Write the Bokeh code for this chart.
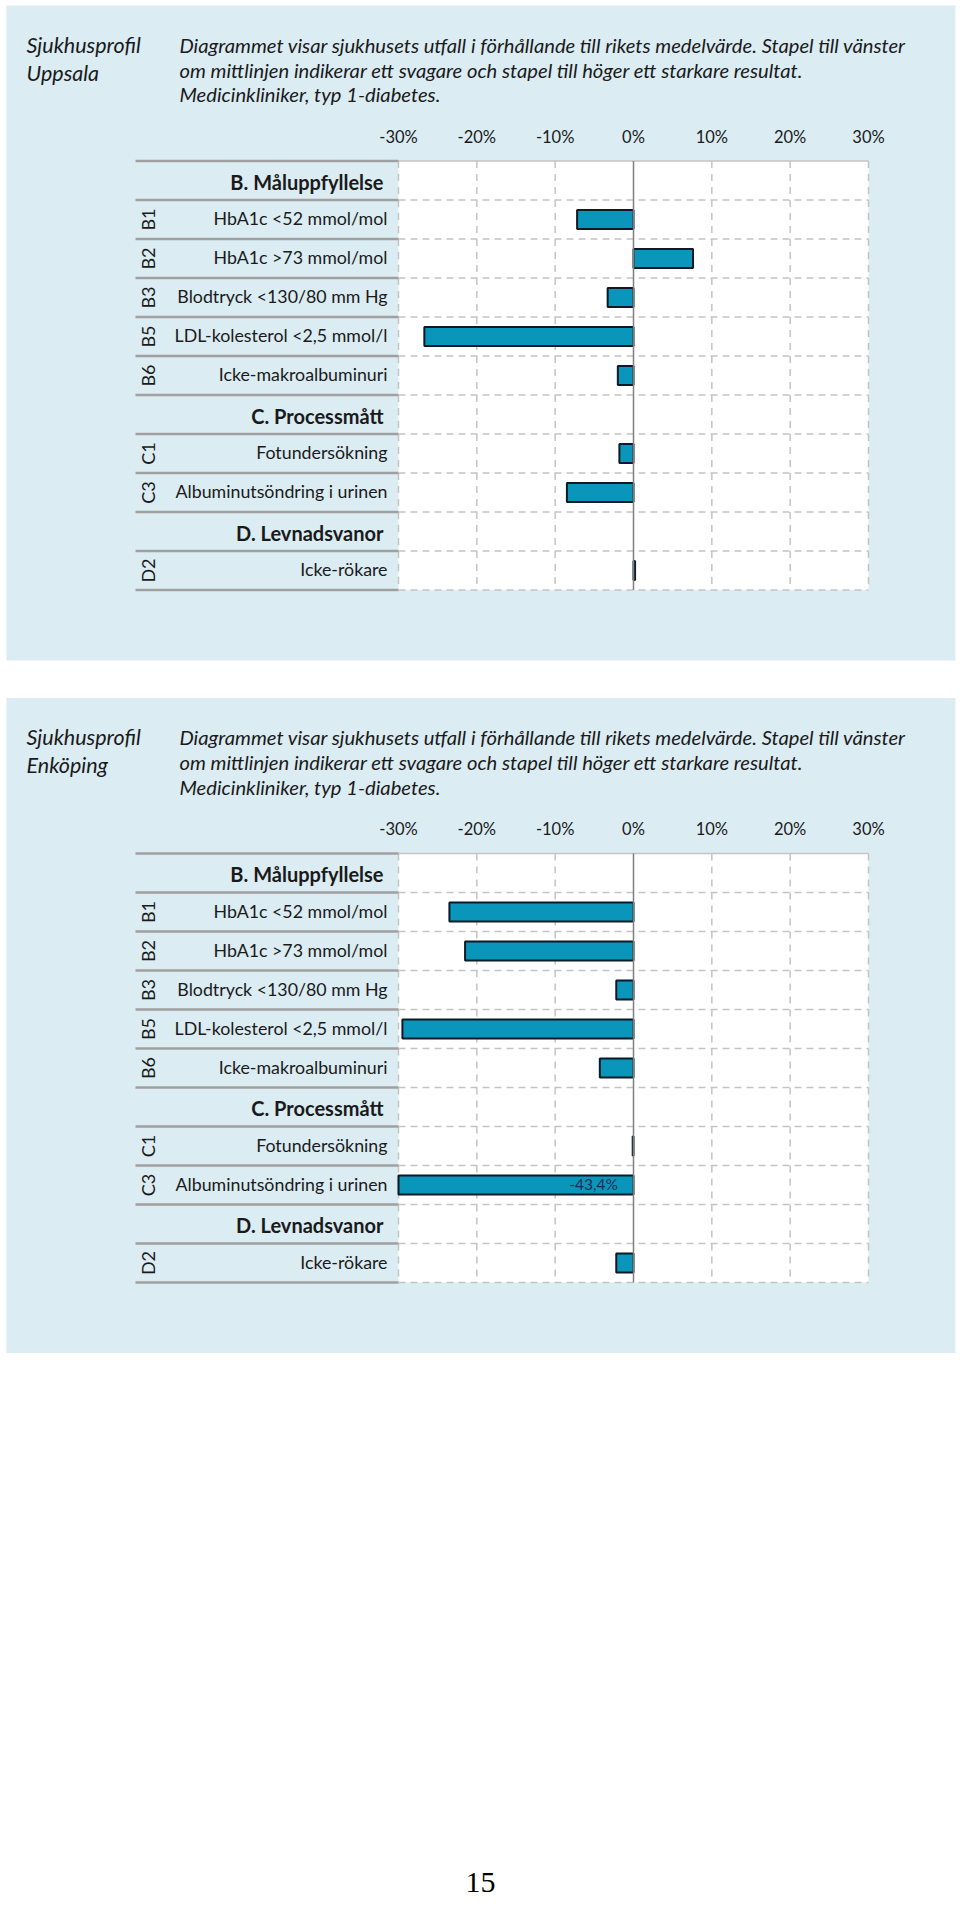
from bokeh.plotting import figure
from bokeh.models import Range1d
from bokeh.core.properties import value
from bokeh.embed import file_html
from bokeh.resources import INLINE

# ---------------- data ----------------
hospitals = ["Uppsala", "Enköping"]
sections = ["B. Måluppfyllelse", "C. Processmått", "D. Levnadsvanor"]
codes = ["B1", "B2", "B3", "B5", "B6", "C1", "C3", "D2"]
code_section = [0, 0, 0, 0, 0, 1, 1, 2]
indicators = ["HbA1c <52 mmol/mol", "HbA1c >73 mmol/mol", "Blodtryck <130/80 mm Hg",
              "LDL-kolesterol <2,5 mmol/l", "Icke-makroalbuminuri", "Fotundersökning",
              "Albuminutsöndring i urinen", "Icke-rökare"]
uppsala_values = [-7.2, 7.6, -3.3, -26.7, -2.0, -1.8, -8.5, 0.2]
enkoping_values = [-23.5, -21.5, -2.2, -29.5, -4.3, -0.1, -43.4, -2.2]
tick_values = [-30, -20, -10, 0, 10, 20, 30]
tick_labels = ["-30%", "-20%", "-10%", "0%", "10%", "20%", "30%"]
title_word = "Sjukhusprofil"
description = ["Diagrammet visar sjukhusets utfall i förhållande till rikets medelvärde. Stapel till vänster",
               "om mittlinjen indikerar  ett svagare och stapel till höger ett starkare resultat.",
               "Medicinkliniker, typ 1-diabetes."]
page_number = "15"

# ---------------- layout ----------------
W, H = 958, 1904
X_MIN, X_MAX = -30, 30
PX_L, PX_R = 398, 868
K = (PX_R - PX_L) / (X_MAX - X_MIN)
XS = X_MIN - PX_L / K
XE = XS + W / K


def X(px):
    return XS + px / K


ROW_H = 39
BG = "#DBECF3"
BAR = "#0A96BA"
TXT = "#1A1A1A"
FONT = value("Lato")

p = figure(width=W, height=H, x_range=Range1d(XS, XE), y_range=Range1d(H, 0),
           output_backend="svg", toolbar_location=None, min_border=0,
           x_axis_location=None, y_axis_location=None)
p.grid.visible = False
p.outline_line_color = None
p.background_fill_color = "white"
p.border_fill_color = "white"

# row order
rows = []
for s in range(len(sections)):
    rows.append(("sec", s))
    for i, cs in enumerate(code_section):
        if cs == s:
            rows.append(("ind", i))
NROWS = len(rows)

for base, name, vals in [(0, hospitals[0], uppsala_values), (692.5, hospitals[1], enkoping_values)]:
    top = 160.5 + base
    bottom = top + NROWS * ROW_H
    # background panel
    p.quad(left=[X(6)], right=[X(955)], top=[5 + base], bottom=[660 + base], fill_color=BG, line_color=None)
    # white plot area
    p.quad(left=[X_MIN], right=[X_MAX], top=[top], bottom=[bottom], fill_color="white", line_color=None)

    # titles
    p.text(x=[X(26)], y=[44 + base], text=[title_word], text_font=FONT, text_font_style="italic",
           text_font_size="21.5px", text_color=TXT, text_baseline="middle", text_align="left")
    p.text(x=[X(26)], y=[72 + base], text=[name], text_font=FONT, text_font_style="italic",
           text_font_size="21.5px", text_color=TXT, text_baseline="middle", text_align="left")
    p.text(x=[X(179)] * 3, y=[44 + base, 69 + base, 93.5 + base], text=description, text_font=FONT,
           text_font_style="italic", text_font_size="20.2px", text_color=TXT,
           text_baseline="middle", text_align="left")

    # tick labels
    p.text(x=tick_values, y=[136 + base] * len(tick_values), text=tick_labels, text_font=FONT,
           text_font_size="16.5px", text_color=TXT, text_baseline="middle", text_align="center")

    # grid: vertical dashed lines
    vt = [t for t in tick_values if t != 0]
    p.segment(x0=vt, x1=vt, y0=[top] * len(vt), y1=[bottom] * len(vt),
              line_color="#C4C4C4", line_width=1.5, line_dash="7 6")
    # horizontal lines
    hb = [top + (i + 1) * ROW_H for i in range(NROWS)]
    p.segment(x0=[X_MIN] * len(hb), x1=[X_MAX] * len(hb), y0=hb, y1=hb,
              line_color="#C4C4C4", line_width=1.5, line_dash="7 5")
    p.segment(x0=[X_MIN], x1=[X_MAX], y0=[top], y1=[top], line_color="#C4C4C4", line_width=1.5)
    # left separators
    lb = [top + i * ROW_H for i in range(NROWS + 1)]
    p.segment(x0=[X(135)] * len(lb), x1=[X_MIN] * len(lb), y0=lb, y1=lb,
              line_color="#A0A0A0", line_width=2.5)

    # labels
    ind_y, ind_txt, code_txt, sec_y, sec_txt = [], [], [], [], []
    bar_y, bar_l, bar_r = [], [], []
    out_x, out_y, out_txt = [], [], []
    for r, (kind, idx) in enumerate(rows):
        cy = top + (r + 0.5) * ROW_H
        if kind == "sec":
            sec_y.append(cy + 1)
            sec_txt.append(sections[idx])
        else:
            ind_y.append(cy)
            ind_txt.append(indicators[idx])
            code_txt.append(codes[idx])
            v = vals[idx]
            bar_y.append(cy)
            bar_l.append(max(min(v, 0), X_MIN))
            bar_r.append(min(max(v, 0), X_MAX))
            if v < X_MIN:
                out_x.append(-2.0)
                out_y.append(cy)
                out_txt.append(("%.1f%%" % v).replace(".", ","))
    p.text(x=[X(387)] * len(ind_y), y=[y - 1.5 for y in ind_y], text=ind_txt, text_font=FONT,
           text_font_size="17.8px", text_color=TXT, text_baseline="middle", text_align="right")
    p.text(x=[X(383)] * len(sec_y), y=sec_y, text=sec_txt, text_font=FONT, text_font_style="bold",
           text_font_size="20px", text_color=TXT, text_baseline="middle", text_align="right")
    p.text(x=[X(147)] * len(ind_y), y=ind_y, text=code_txt, text_font=FONT, text_font_size="18px",
           text_color=TXT, text_baseline="middle", text_align="center", angle=1.5707963)

    # bars
    p.hbar(y=bar_y, left=bar_l, right=bar_r, height=19, fill_color=BAR, line_color="#0B1A26",
           line_width=2)
    # zero line
    p.segment(x0=[0], x1=[0], y0=[top], y1=[bottom], line_color="#808080", line_width=1.5)
    if out_txt:
        p.text(x=out_x, y=[y - 1 for y in out_y], text=out_txt, text_font=FONT, text_font_size="15.5px",
               text_color="#1C2B4F", text_baseline="middle", text_align="right")

# page number
p.text(x=[X(480)], y=[1882], text=[page_number], text_font=value("Liberation Serif"),
       text_font_size="30px", text_color="black", text_baseline="middle", text_align="center")

open("out.html", "w").write(file_html(p, INLINE))
